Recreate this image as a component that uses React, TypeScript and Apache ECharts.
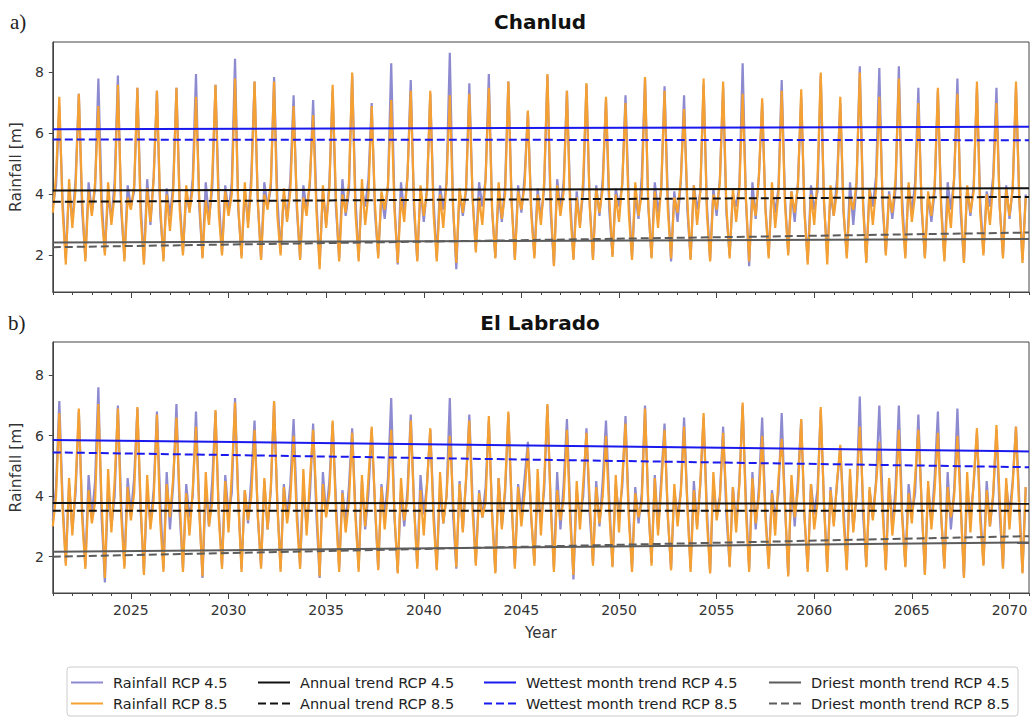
import React, { useEffect, useRef } from "react";
import * as echarts from "echarts";

// ---------- data (bi-monthly samples, 6 per year, Jan 2021 .. Nov 2070) ----------
const START_YEAR = 2021;
const END_YEAR = 2071;
const SAMPLES_PER_YEAR = 6;

const xMajorTicks = [2025, 2030, 2035, 2040, 2045, 2050, 2055, 2060, 2065, 2070];
const yTicks = [2, 4, 6, 8];

// Chanlud, RCP 4.5
const chanludRcp45 = [
  3.6, 4.3, 6.9, 3.8, 1.9, 4.2,
  3.1, 4.5, 7.3, 3.5, 1.9, 4.4,
  3.4, 4.2, 7.8, 3.9, 2.1, 4.0,
  3.2, 4.4, 7.9, 3.5, 1.9, 4.3,
  3.6, 4.1, 7.5, 3.7, 1.8, 4.5,
  3.0, 4.6, 7.4, 3.4, 1.9, 4.2,
  3.3, 4.3, 7.5, 3.8, 2.1, 4.0,
  3.5, 4.5, 7.95, 3.6, 1.95, 4.4,
  3.2, 4.2, 7.6, 3.9, 2.1, 4.3,
  3.4, 4.4, 8.45, 3.5, 2.0, 4.1,
  3.1, 4.6, 7.7, 3.7, 1.9, 4.4,
  3.6, 4.2, 7.85, 3.9, 2.1, 4.0,
  3.2, 4.5, 7.25, 3.5, 1.9, 4.3,
  3.5, 4.3, 7.1, 3.8, 1.7, 4.1,
  3.0, 4.4, 7.4, 3.6, 1.9, 4.5,
  3.3, 4.1, 7.9, 3.9, 1.9, 4.2,
  3.6, 4.5, 7.0, 3.4, 2.0, 4.0,
  3.2, 4.3, 8.3, 3.7, 1.7, 4.4,
  3.4, 4.6, 7.75, 3.5, 1.85, 4.2,
  3.1, 4.2, 7.3, 3.8, 1.9, 4.3,
  3.5, 4.4, 8.65, 3.6, 1.55, 4.1,
  3.3, 4.1, 7.65, 3.9, 2.2, 4.4,
  3.6, 4.5, 7.95, 3.5, 1.95, 4.0,
  3.1, 4.3, 7.7, 3.8, 1.9, 4.3,
  3.4, 4.6, 6.7, 3.6, 2.0, 4.2,
  3.2, 4.2, 7.9, 3.4, 1.7, 4.5,
  3.5, 4.4, 7.4, 3.9, 1.9, 4.1,
  3.0, 4.1, 7.6, 3.7, 1.9, 4.3,
  3.3, 4.5, 7.1, 3.5, 2.0, 4.2,
  3.6, 4.3, 7.25, 3.8, 1.95, 4.0,
  3.2, 4.6, 7.8, 3.6, 1.95, 4.4,
  3.4, 4.2, 7.55, 3.9, 1.8, 4.1,
  3.1, 4.4, 7.25, 3.5, 1.9, 4.3,
  3.5, 4.1, 7.6, 3.7, 1.85, 4.2,
  3.3, 4.5, 7.5, 3.4, 2.0, 4.0,
  3.6, 4.3, 8.3, 3.8, 1.65, 4.4,
  3.2, 4.6, 7.0, 3.6, 2.0, 4.2,
  3.4, 4.2, 7.75, 3.9, 2.1, 4.1,
  3.1, 4.4, 7.2, 3.5, 1.8, 4.3,
  3.5, 4.1, 7.9, 3.7, 2.0, 4.0,
  3.3, 4.5, 7.0, 3.4, 2.0, 4.4,
  3.0, 4.3, 8.2, 3.8, 1.8, 4.2,
  3.6, 4.6, 8.15, 3.6, 2.1, 4.1,
  3.2, 4.2, 8.2, 3.9, 2.0, 4.3,
  3.4, 4.4, 7.5, 3.5, 1.95, 4.0,
  3.1, 4.1, 7.4, 3.7, 1.9, 4.4,
  3.5, 4.5, 7.8, 3.4, 1.8, 4.2,
  3.3, 4.3, 7.5, 3.8, 2.1, 4.1,
  3.6, 4.6, 7.5, 3.6, 2.0, 4.3,
  3.2, 4.2, 7.5, 3.9, 1.85, 4.0,
];

// Chanlud, RCP 8.5
const chanludRcp85 = [
  3.4, 4.6, 7.2, 3.5, 1.7, 4.5,
  2.9, 4.2, 7.3, 3.9, 1.8, 4.1,
  3.3, 4.4, 6.9, 3.4, 2.0, 4.4,
  3.0, 4.0, 7.6, 3.8, 1.8, 3.9,
  3.5, 4.3, 7.5, 3.3, 1.7, 4.2,
  3.1, 4.5, 7.4, 3.7, 1.8, 4.0,
  2.8, 4.1, 7.5, 3.5, 2.0, 4.3,
  3.4, 4.2, 7.2, 3.9, 1.9, 3.8,
  3.0, 4.6, 7.6, 3.4, 2.0, 4.1,
  3.3, 4.0, 7.8, 3.6, 1.9, 4.4,
  2.9, 4.3, 7.7, 3.8, 1.85, 4.0,
  3.5, 4.4, 7.7, 3.3, 2.0, 4.2,
  3.1, 4.1, 6.9, 3.7, 1.85, 3.9,
  3.3, 4.5, 6.6, 3.5, 1.55, 4.3,
  2.9, 4.2, 7.6, 3.9, 1.8, 4.0,
  3.4, 4.4, 8.0, 3.4, 1.8, 4.5,
  3.0, 4.0, 6.9, 3.7, 1.9, 4.1,
  3.5, 4.3, 7.1, 3.5, 1.75, 3.9,
  3.1, 4.6, 7.4, 3.8, 1.8, 4.3,
  3.3, 4.1, 7.4, 3.4, 1.8, 4.0,
  2.9, 4.4, 7.25, 3.6, 1.75, 4.2,
  3.4, 4.2, 7.3, 3.9, 2.1, 3.9,
  3.0, 4.5, 7.5, 3.5, 1.9, 4.4,
  3.2, 4.0, 7.7, 3.7, 1.85, 4.1,
  3.5, 4.3, 6.75, 3.4, 1.9, 4.0,
  3.0, 4.4, 7.95, 3.8, 1.65, 4.3,
  3.3, 4.1, 7.4, 3.5, 1.85, 3.9,
  2.9, 4.5, 7.65, 3.6, 1.85, 4.2,
  3.4, 4.2, 7.2, 3.9, 1.95, 4.0,
  3.1, 4.4, 7.0, 3.4, 1.85, 4.4,
  3.3, 4.0, 7.85, 3.7, 1.9, 4.1,
  2.9, 4.3, 7.4, 3.5, 1.9, 3.9,
  3.4, 4.5, 6.8, 3.8, 1.85, 4.3,
  3.0, 4.1, 7.8, 3.4, 1.8, 4.0,
  3.5, 4.4, 7.7, 3.6, 1.9, 4.2,
  3.1, 4.2, 7.3, 3.9, 1.8, 3.9,
  3.3, 4.6, 7.15, 3.5, 1.9, 4.4,
  2.9, 4.0, 7.4, 3.7, 2.0, 4.1,
  3.4, 4.3, 7.45, 3.4, 1.7, 4.0,
  3.0, 4.5, 8.0, 3.8, 1.7, 4.3,
  3.3, 4.1, 7.2, 3.5, 1.9, 3.9,
  3.5, 4.4, 8.0, 3.6, 1.75, 4.2,
  3.0, 4.2, 7.2, 3.9, 2.0, 4.0,
  3.4, 4.5, 7.8, 3.4, 1.9, 4.4,
  3.1, 4.0, 7.0, 3.7, 1.9, 4.1,
  3.3, 4.3, 7.5, 3.5, 1.8, 3.9,
  2.9, 4.6, 7.3, 3.8, 1.75, 4.3,
  3.4, 4.1, 7.7, 3.4, 2.0, 4.0,
  3.0, 4.4, 7.0, 3.6, 1.9, 4.2,
  3.3, 4.2, 7.7, 3.9, 1.75, 3.9,
];

// El Labrado, RCP 4.5
const labradoRcp45 = [
  3.2, 4.3, 7.15, 3.9, 1.8, 4.4,
  2.9, 4.1, 6.8, 3.6, 1.7, 4.7,
  3.3, 4.5, 7.6, 3.3, 1.15, 4.3,
  3.0, 4.0, 7.0, 3.8, 1.7, 4.6,
  3.4, 4.6, 6.9, 3.5, 1.5, 4.2,
  3.1, 4.2, 6.8, 3.9, 1.6, 4.8,
  2.9, 4.4, 7.05, 3.4, 1.6, 4.4,
  3.3, 4.0, 6.8, 3.7, 1.3, 4.3,
  3.0, 4.5, 6.8, 3.5, 1.7, 4.7,
  3.4, 4.1, 7.25, 3.9, 1.6, 4.2,
  3.1, 4.6, 6.5, 3.3, 1.7, 4.5,
  2.9, 4.2, 7.1, 3.8, 1.6, 4.4,
  3.3, 4.4, 6.55, 3.6, 1.7, 4.3,
  3.0, 4.0, 6.4, 3.4, 1.3, 4.8,
  3.4, 4.5, 6.4, 3.9, 1.6, 4.2,
  3.1, 4.3, 6.25, 3.5, 1.6, 4.5,
  2.9, 4.1, 6.2, 3.7, 1.6, 4.4,
  3.3, 4.6, 7.25, 3.3, 1.5, 4.2,
  3.0, 4.2, 6.7, 3.8, 1.7, 4.7,
  3.4, 4.4, 6.2, 3.6, 1.6, 4.3,
  3.1, 4.0, 7.25, 3.4, 1.6, 4.5,
  2.9, 4.5, 6.7, 3.9, 1.8, 4.2,
  3.3, 4.3, 6.5, 3.5, 1.5, 4.6,
  3.0, 4.1, 6.7, 3.7, 1.7, 4.4,
  3.4, 4.6, 5.8, 3.3, 1.8, 4.3,
  3.1, 4.2, 7.0, 3.8, 1.6, 4.8,
  2.9, 4.4, 6.55, 3.6, 1.25, 4.2,
  3.3, 4.0, 6.25, 3.4, 1.8, 4.5,
  3.0, 4.5, 6.5, 3.9, 1.7, 4.4,
  3.4, 4.3, 6.65, 3.5, 1.6, 4.3,
  3.1, 4.1, 7.0, 3.7, 1.8, 4.7,
  2.9, 4.6, 6.4, 3.3, 1.6, 4.2,
  3.3, 4.2, 6.6, 3.8, 1.6, 4.5,
  3.0, 4.4, 6.6, 3.6, 1.5, 4.4,
  3.4, 4.0, 6.3, 3.4, 1.7, 4.3,
  3.1, 4.5, 7.0, 3.9, 1.6, 4.8,
  2.9, 4.3, 6.6, 3.5, 1.7, 4.2,
  3.3, 4.1, 6.75, 3.7, 1.4, 4.5,
  3.0, 4.6, 6.5, 3.3, 1.6, 4.4,
  3.4, 4.2, 6.85, 3.8, 1.6, 4.3,
  3.1, 4.4, 5.6, 3.6, 1.6, 4.7,
  2.9, 4.0, 7.3, 3.4, 1.7, 4.2,
  3.3, 4.5, 7.0, 3.9, 1.6, 4.5,
  3.0, 4.3, 7.0, 3.5, 1.7, 4.4,
  3.4, 4.1, 6.7, 3.7, 1.45, 4.3,
  3.1, 4.6, 6.8, 3.3, 1.65, 4.8,
  2.9, 4.2, 6.9, 3.8, 1.35, 4.2,
  3.3, 4.4, 6.1, 3.6, 1.75, 4.5,
  3.0, 4.0, 6.2, 3.4, 1.65, 4.4,
  3.4, 4.5, 6.3, 3.9, 1.5, 4.3,
];

// El Labrado, RCP 8.5
const labradoRcp85 = [
  3.0, 4.0, 6.75, 3.6, 1.7, 4.6,
  2.7, 4.4, 6.9, 3.3, 1.6, 4.2,
  3.1, 3.8, 7.05, 3.8, 1.3, 4.9,
  2.8, 4.5, 6.9, 3.4, 1.6, 4.3,
  3.2, 4.1, 6.95, 3.7, 1.4, 4.7,
  2.9, 3.9, 6.7, 3.2, 1.5, 4.4,
  3.3, 4.6, 6.6, 3.9, 1.5, 4.1,
  2.7, 4.2, 6.3, 3.5, 1.35, 4.8,
  3.0, 3.8, 6.85, 3.3, 1.6, 4.5,
  2.8, 4.7, 7.1, 3.8, 1.5, 4.2,
  3.2, 4.0, 6.2, 3.4, 1.6, 4.6,
  2.9, 4.3, 7.15, 3.7, 1.5, 4.3,
  3.1, 3.9, 6.0, 3.2, 1.6, 4.9,
  2.7, 4.5, 6.2, 3.9, 1.35, 4.4,
  3.3, 4.1, 6.5, 3.5, 1.5, 4.1,
  2.8, 3.8, 6.1, 3.3, 1.5, 4.7,
  3.0, 4.6, 6.3, 3.8, 1.55, 4.3,
  2.9, 4.2, 6.2, 3.4, 1.45, 4.6,
  3.2, 3.9, 6.5, 3.7, 1.6, 4.2,
  2.7, 4.4, 6.25, 3.2, 1.55, 4.8,
  3.1, 4.0, 6.0, 3.9, 1.65, 4.4,
  2.8, 4.6, 6.5, 3.5, 1.7, 4.1,
  3.3, 3.8, 6.65, 3.3, 1.45, 4.6,
  2.9, 4.3, 6.8, 3.8, 1.6, 4.3,
  3.0, 4.1, 5.6, 3.4, 1.7, 4.9,
  2.7, 4.5, 7.05, 3.7, 1.5, 4.2,
  3.2, 3.9, 6.2, 3.2, 1.4, 4.5,
  2.9, 4.4, 6.1, 3.9, 1.7, 4.3,
  3.1, 4.0, 6.0, 3.5, 1.65, 4.7,
  2.8, 4.6, 6.4, 3.3, 1.5, 4.1,
  3.3, 3.8, 6.9, 3.8, 1.7, 4.6,
  2.7, 4.3, 6.2, 3.4, 1.55, 4.4,
  3.0, 4.1, 6.3, 3.7, 1.5, 4.2,
  2.9, 4.5, 6.75, 3.2, 1.45, 4.8,
  3.2, 3.9, 6.1, 3.9, 1.65, 4.3,
  2.8, 4.4, 7.1, 3.5, 1.5, 4.6,
  3.1, 4.0, 6.0, 3.3, 1.6, 4.1,
  2.7, 4.6, 5.9, 3.8, 1.35, 4.7,
  3.3, 4.2, 6.55, 3.4, 1.5, 4.4,
  2.9, 3.8, 6.95, 3.7, 1.5, 4.2,
  3.0, 4.5, 5.7, 3.2, 1.55, 4.9,
  2.8, 4.1, 6.3, 3.9, 1.65, 4.3,
  3.2, 4.4, 5.8, 3.5, 1.55, 4.6,
  2.7, 3.9, 6.2, 3.3, 1.65, 4.1,
  3.1, 4.6, 6.2, 3.8, 1.4, 4.5,
  2.9, 4.2, 6.1, 3.4, 1.6, 4.3,
  3.3, 4.0, 6.0, 3.7, 1.3, 4.8,
  2.8, 4.5, 6.25, 3.2, 1.7, 4.2,
  3.0, 4.1, 6.35, 3.9, 1.6, 4.6,
  2.9, 4.4, 6.3, 3.5, 1.45, 4.3,
];

// Trend lines: value at START_YEAR and at END_YEAR
const trendYears = [START_YEAR, END_YEAR];
const chanludAnnual45 = [4.13, 4.2];
const chanludAnnual85 = [3.76, 3.92];
const chanludWettest45 = [6.14, 6.22];
const chanludWettest85 = [5.8, 5.78];
const chanludDriest45 = [2.42, 2.54];
const chanludDriest85 = [2.27, 2.75];

const labradoAnnual45 = [3.78, 3.75];
const labradoAnnual85 = [3.52, 3.52];
const labradoWettest45 = [5.86, 5.48];
const labradoWettest85 = [5.45, 4.96];
const labradoDriest45 = [2.16, 2.47];
const labradoDriest85 = [2.0, 2.68];

// ---------- styling ----------
const FONT = "DejaVu Sans";
const C_RCP45 = "#8e8ad0";
const C_RCP85 = "#f4a033";
const C_ANNUAL = "#111111";
const C_WET = "#1a1aee";
const C_DRY = "#5c5c5c";
const AXIS = "#444444";
const LABEL = "#333333";
const DASH = [8, 4];

const N = {
  r45: "Rainfall RCP 4.5",
  r85: "Rainfall RCP 8.5",
  a45: "Annual trend RCP 4.5",
  a85: "Annual trend RCP 8.5",
  w45: "Wettest month trend RCP 4.5",
  w85: "Wettest month trend RCP 8.5",
  d45: "Driest month trend RCP 4.5",
  d85: "Driest month trend RCP 8.5",
};

const everyYear: number[] = [];
for (let y = START_YEAR; y <= END_YEAR; y++) everyYear.push(y);

function monthly(vals: number[]) {
  return vals.map((v, i) => [START_YEAR + i / SAMPLES_PER_YEAR, v]);
}
function trend(vals: number[]) {
  return vals.map((v, i) => [trendYears[i], v]);
}

function panelSeries(
  xi: number,
  yi: number,
  r45: number[],
  r85: number[],
  a45: number[],
  a85: number[],
  w45: number[],
  w85: number[],
  d45: number[],
  d85: number[]
) {
  const base = {
    type: "line",
    xAxisIndex: xi,
    yAxisIndex: yi,
    symbol: "none",
    showSymbol: false,
    silent: true,
  };
  const tl = (name: string, data: number[], color: string, dashed: boolean) => ({
    ...base,
    name,
    data: trend(data),
    z: 5,
    lineStyle: { color, width: 2, type: dashed ? DASH : "solid" },
    itemStyle: { color },
  });
  return [
    { ...base, name: N.r45, data: monthly(r45), z: 2, lineStyle: { color: C_RCP45, width: 2.2 }, itemStyle: { color: C_RCP45 } },
    { ...base, name: N.r85, data: monthly(r85), z: 3, lineStyle: { color: C_RCP85, width: 2.2 }, itemStyle: { color: C_RCP85 } },
    tl(N.w45, w45, C_WET, false),
    tl(N.w85, w85, C_WET, true),
    tl(N.a45, a45, C_ANNUAL, false),
    tl(N.a85, a85, C_ANNUAL, true),
    tl(N.d45, d45, C_DRY, false),
    tl(N.d85, d85, C_DRY, true),
  ];
}

function xAxes(gridIndex: number, showLabels: boolean) {
  return [
    {
      type: "value",
      gridIndex,
      min: START_YEAR,
      max: END_YEAR,
      position: "bottom",
      name: showLabels ? "Year" : "",
      nameLocation: "middle",
      nameGap: 32,
      nameTextStyle: { fontFamily: FONT, fontSize: 15, color: LABEL },
      axisLine: { show: true, lineStyle: { color: AXIS, width: 1 } },
      axisTick: { show: true, customValues: xMajorTicks, length: 6, inside: false, lineStyle: { color: AXIS } },
      axisLabel: {
        show: showLabels,
        customValues: xMajorTicks,
        formatter: (v: number) => String(Math.round(v)),
        margin: 10,
        fontFamily: FONT,
        fontSize: 14,
        color: LABEL,
      },
      splitLine: { show: false },
    },
    {
      type: "value",
      gridIndex,
      min: START_YEAR,
      max: END_YEAR,
      position: "bottom",
      offset: 0,
      axisLine: { show: false },
      axisTick: { show: true, customValues: everyYear, length: 3, lineStyle: { color: AXIS } },
      axisLabel: { show: false },
      splitLine: { show: false },
    },
  ];
}

function yAxis(gridIndex: number, min: number, max: number) {
  return {
    type: "value",
    gridIndex,
    min,
    max,
    name: "Rainfall [m]",
    nameLocation: "middle",
    nameGap: 18,
    nameTextStyle: { fontFamily: FONT, fontSize: 15.5, color: LABEL },
    axisLine: { show: true, lineStyle: { color: AXIS, width: 1 } },
    axisTick: { show: true, customValues: yTicks, length: 4, lineStyle: { color: AXIS } },
    axisLabel: {
      customValues: yTicks,
      formatter: (v: number) => String(Math.round(v)),
      margin: 9,
      fontFamily: FONT,
      fontSize: 14,
      color: LABEL,
    },
    splitLine: { show: false },
  };
}

function legendColumn(left: number, names: string[]) {
  return {
    left,
    top: 675,
    orient: "vertical",
    padding: 0,
    itemWidth: 32,
    itemHeight: 14,
    itemGap: 6,
    selectedMode: false,
    data: names,
    itemStyle: { opacity: 0 },
    textStyle: { fontFamily: FONT, fontSize: 14.5, color: "#222", padding: [0, 0, 0, 5] },
  };
}

export default function App() {
  const ref = useRef<HTMLDivElement>(null);

  useEffect(() => {
    if (!ref.current) return;
    const chart = echarts.init(ref.current, undefined, { renderer: "svg" });
    const option = {
      animation: false,
      backgroundColor: "#ffffff",
      grid: [
        { left: 52, top: 42, width: 977, height: 250, show: true, borderColor: AXIS, borderWidth: 1, backgroundColor: "transparent" },
        { left: 52, top: 342, width: 977, height: 251, show: true, borderColor: AXIS, borderWidth: 1, backgroundColor: "transparent" },
      ],
      xAxis: [...xAxes(0, false), ...xAxes(1, true)],
      yAxis: [yAxis(0, 0.8, 9.0), yAxis(1, 0.8, 9.1)],
      legend: [
        legendColumn(70, [N.r45, N.r85]),
        legendColumn(257, [N.a45, N.a85]),
        legendColumn(483, [N.w45, N.w85]),
        legendColumn(768, [N.d45, N.d85]),
      ],
      graphic: [
        {
          type: "rect",
          z: -10,
          silent: true,
          shape: { x: 67, y: 667, width: 951, height: 49, r: 3 },
          style: { fill: "#ffffff", stroke: "#cccccc", lineWidth: 1 },
        },
        {
          type: "text",
          x: 540,
          y: 22,
          style: { text: "Chanlud", fontFamily: FONT, fontSize: 20, fontWeight: "bold", fill: "#111", textAlign: "center", textVerticalAlign: "middle" },
        },
        {
          type: "text",
          x: 540,
          y: 323,
          style: { text: "El Labrado", fontFamily: FONT, fontSize: 20, fontWeight: "bold", fill: "#111", textAlign: "center", textVerticalAlign: "middle" },
        },
        {
          type: "text",
          x: 10,
          y: 22,
          style: { text: "a)", fontFamily: "Liberation Serif", fontSize: 21, fill: "#222", textAlign: "left", textVerticalAlign: "middle" },
        },
        {
          type: "text",
          x: 8,
          y: 323,
          style: { text: "b)", fontFamily: "Liberation Serif", fontSize: 21, fill: "#222", textAlign: "left", textVerticalAlign: "middle" },
        },
      ],
      series: [
        ...panelSeries(0, 0, chanludRcp45, chanludRcp85, chanludAnnual45, chanludAnnual85, chanludWettest45, chanludWettest85, chanludDriest45, chanludDriest85),
        ...panelSeries(2, 1, labradoRcp45, labradoRcp85, labradoAnnual45, labradoAnnual85, labradoWettest45, labradoWettest85, labradoDriest45, labradoDriest85),
      ],
    };
    chart.setOption(option as any);
    return () => chart.dispose();
  }, []);

  return <div ref={ref} style={{ position: "absolute", left: 0, top: 0, width: 1031, height: 722 }} />;
}
